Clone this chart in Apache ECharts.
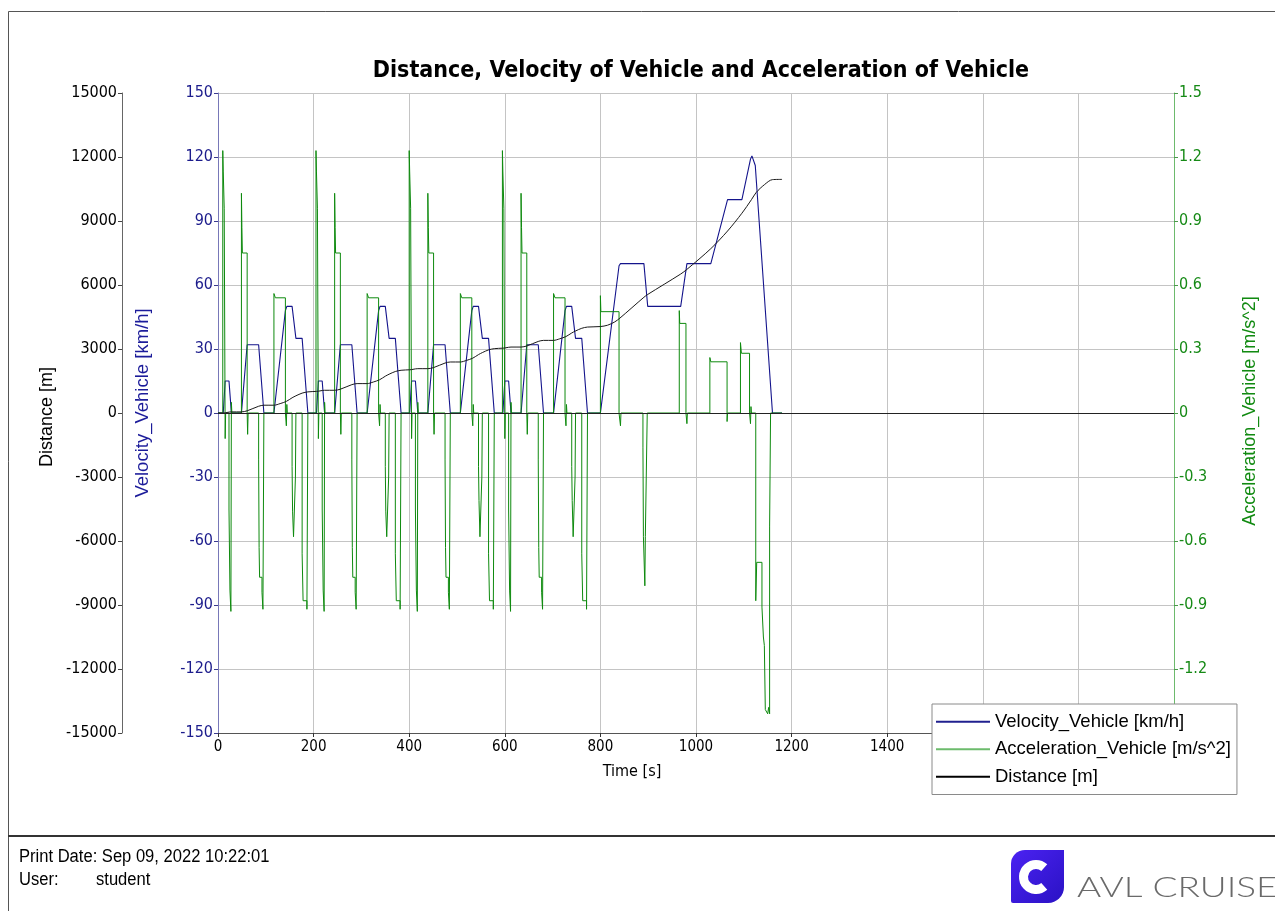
<!DOCTYPE html>
<html>
<head>
<meta charset="utf-8">
<script src="https://cdn.jsdelivr.net/npm/echarts@6/dist/echarts.min.js"></script>
<style>
html,body{margin:0;padding:0;background:#fff;}
#chart{width:1275px;height:911px;}
</style>
</head>
<body>
<div id="chart"></div>
<script>
// ---------- DATA ----------
var titleText = 'Distance, Velocity of Vehicle and Acceleration of Vehicle';
var seriesNames = ['Velocity_Vehicle [km/h]', 'Acceleration_Vehicle [m/s^2]', 'Distance [m]'];

// Velocity [km/h] : [time s, value]
var velocityPoints = [
  [0,0],[11,0],[15,15],[23,15],[28,0],[49,0],[61,32],[85,32],[96,0],[117,0],[141,48],[144,50],[155,50],[163,35],[176,35],[188,0],
  [206,0],[210,15],[218,15],[223,0],[244,0],[256,32],[280,32],[291,0],[312,0],[336,48],[339,50],[350,50],[358,35],[371,35],[383,0],
  [401,0],[405,15],[413,15],[418,0],[439,0],[451,32],[475,32],[486,0],[507,0],[531,48],[534,50],[545,50],[553,35],[566,35],[578,0],
  [596,0],[600,15],[608,15],[613,0],[634,0],[646,32],[670,32],[681,0],[702,0],[726,48],[729,50],[740,50],[748,35],[761,35],[773,0],
  [800,0],[839,69],[842,70],[891,70],[899,50],[968,50],[981,70],[1031,70],[1066,100],[1096,100],[1114,119],[1117,120.5],[1121,120],[1124,116],[1160,0],[1180,0]
];

// Acceleration [m/s^2] : [time s, value]
var accelCycle1 = [
  [0,0],[10,0],[10,1.23],[11,1.23],[11,1.13],[13,1.13],[13,0.96],[15,0.96],[15,-0.12],[16,-0.12],[16,0],[23,0],[23,-0.45],[25,-0.45],[25,-0.83],[27,-0.83],[27,-0.93],[28,-0.93],[28,0.05],[29,0],
  [49,0],[49,1.03],[50,1.03],[50,0.87],[51,0.87],[51,0.75],[61,0.75],[61,0],[62,-0.1],[63,0],
  [85,0],[85,-0.22],[86,-0.22],[86,-0.63],[87,-0.63],[87,-0.77],[92,-0.77],[92,-0.84],[94,-0.84],[94,-0.92],[96,-0.92],[96,0],
  [117,0],[117,0.56],[120,0.56],[120,0.54],[141,0.54],[141,0],[143,-0.06],[144,0.04],[145,0],
  [155,0],[155,-0.25],[156,-0.25],[156,-0.46],[158,-0.46],[158,-0.58],[162,-0.58],[162,-0.3],[163,-0.3],[163,0],
  [176,0],[176,-0.66],[178,-0.66],[178,-0.88],[186,-0.88],[186,-0.92],[188,-0.92],[188,0]
];
var accelCycle2 = [
  [195,0],[205,0],[205,1.23],[206,1.23],[206,1.13],[208,1.13],[208,0.96],[210,0.96],[210,-0.12],[211,-0.12],[211,0],[218,0],[218,-0.45],[220,-0.45],[220,-0.83],[222,-0.83],[222,-0.93],[223,-0.93],[223,0.05],[224,0],
  [244,0],[244,1.03],[245,1.03],[245,0.87],[246,0.87],[246,0.75],[256,0.75],[256,0],[257,-0.1],[258,0],
  [280,0],[280,-0.22],[281,-0.22],[281,-0.63],[282,-0.63],[282,-0.77],[287,-0.77],[287,-0.84],[289,-0.84],[289,-0.92],[291,-0.92],[291,0],
  [312,0],[312,0.56],[315,0.56],[315,0.54],[336,0.54],[336,0],[338,-0.06],[339,0.04],[340,0],
  [350,0],[350,-0.25],[351,-0.25],[351,-0.46],[353,-0.46],[353,-0.58],[357,-0.58],[357,-0.3],[358,-0.3],[358,0],
  [371,0],[371,-0.66],[373,-0.66],[373,-0.88],[381,-0.88],[381,-0.92],[383,-0.92],[383,0]
];
var accelCycle3 = [
  [390,0],[400,0],[400,1.23],[401,1.23],[401,1.13],[403,1.13],[403,0.96],[405,0.96],[405,-0.12],[406,-0.12],[406,0],[413,0],[413,-0.45],[415,-0.45],[415,-0.83],[417,-0.83],[417,-0.93],[418,-0.93],[418,0.05],[419,0],
  [439,0],[439,1.03],[440,1.03],[440,0.87],[441,0.87],[441,0.75],[451,0.75],[451,0],[452,-0.1],[453,0],
  [475,0],[475,-0.22],[476,-0.22],[476,-0.63],[477,-0.63],[477,-0.77],[482,-0.77],[482,-0.84],[484,-0.84],[484,-0.92],[486,-0.92],[486,0],
  [507,0],[507,0.56],[510,0.56],[510,0.54],[531,0.54],[531,0],[533,-0.06],[534,0.04],[535,0],
  [545,0],[545,-0.25],[546,-0.25],[546,-0.41],[548,-0.41],[548,-0.58],[552,-0.58],[552,-0.3],[553,-0.3],[553,0],
  [566,0],[566,-0.66],[568,-0.66],[568,-0.88],[576,-0.88],[576,-0.92],[578,-0.92],[578,0]
];
var accelCycle4 = [
  [585,0],[595,0],[595,1.23],[596,1.23],[596,1.13],[598,1.13],[598,0.96],[600,0.96],[600,-0.12],[601,-0.12],[601,0],[608,0],[608,-0.45],[610,-0.45],[610,-0.83],[612,-0.83],[612,-0.93],[613,-0.93],[613,0.05],[614,0],
  [634,0],[634,1.03],[635,1.03],[635,0.87],[636,0.87],[636,0.75],[646,0.75],[646,0],[647,-0.1],[648,0],
  [670,0],[670,-0.22],[671,-0.22],[671,-0.63],[672,-0.63],[672,-0.77],[677,-0.77],[677,-0.84],[679,-0.84],[679,-0.92],[681,-0.92],[681,0],
  [702,0],[702,0.56],[705,0.56],[705,0.54],[726,0.54],[726,0],[728,-0.06],[729,0.04],[730,0],
  [740,0],[740,-0.25],[741,-0.25],[741,-0.41],[743,-0.41],[743,-0.58],[747,-0.58],[747,-0.3],[748,-0.3],[748,0],
  [761,0],[761,-0.66],[763,-0.66],[763,-0.88],[771,-0.88],[771,-0.92],[773,-0.92],[773,0]
];
var accelExtraUrban = [
  [780,0],[800,0],[800,0.55],[801,0.55],[801,0.475],[839,0.475],[839,0],[842,-0.06],[843,0],
  [889,0],[889,-0.16],[890,-0.16],[890,-0.58],[893,-0.58],[893,-0.81],[894,-0.81],[894,-0.58],[898,-0.58],[898,0],
  [965,0],[965,0.48],[966,0.48],[966,0.42],[979,0.42],[979,0],[981,-0.05],[982,0],
  [1029,0],[1029,0.26],[1031,0.26],[1031,0.24],[1065,0.24],[1065,-0.04],[1066,0],
  [1093,0],[1093,0.33],[1095,0.33],[1095,0.28],[1112,0.28],[1112,0],[1114,-0.05],[1115,0.03],[1116,0],
  [1125,0],[1125,-0.88],[1127,-0.88],[1127,-0.70],[1138,-0.70],[1138,-0.91],[1141,-0.91],[1141,-1.05],[1143,-1.05],[1143,-1.09],[1145,-1.09],[1145,-1.39],[1150,-1.41],[1152,-1.38],[1154,-1.41],[1154,-0.53],[1156,-0.53],[1156,0],[1180,0]
];

// Distance [m] : [time s, value]
var distancePoints = [
  [0,0],[11,0],[15,8],[23,42],[28,52],[49,52],[61,103],[85,316],[96,365],[117,365],[130,440],[143,545],[155,712],[163,806],[176,932],[188,990],[206,1013],
  [210,1021],[218,1055],[223,1065],[244,1065],[256,1116],[280,1329],[291,1378],[312,1378],[325,1453],[338,1558],[350,1725],[358,1819],[371,1945],[383,2003],[401,2026],
  [405,2034],[413,2068],[418,2078],[439,2078],[451,2129],[475,2342],[486,2391],[507,2391],[520,2466],[533,2571],[545,2738],[553,2832],[566,2958],[578,3016],[596,3039],
  [600,3047],[608,3081],[613,3091],[634,3091],[646,3142],[670,3355],[681,3404],[702,3404],[715,3479],[728,3584],[740,3751],[748,3845],[761,3971],[773,4029],[800,4052],
  [815,4115],[830,4270],[841,4452],[891,5424],[899,5557],[968,6515],[981,6732],[1031,7704],[1066,8530],[1096,9363],[1116,10000],[1126,10340],[1143,10700],[1160,10940],[1180,10950]
];

var xTicks = {min:0, max:2000, interval:200};
var distTicks = {min:-15000, max:15000, interval:3000};
var velTicks = {min:-150, max:150, interval:30};
var accTicks = {min:-1.5, max:1.5, interval:0.3};

var footerDate = 'Print Date: Sep 09, 2022 10:22:01';
var footerUserLabel = 'User:';
var footerUser = 'student';

// ---------- CHART ----------
var accelPoints = accelCycle1.concat(accelCycle2, accelCycle3, accelCycle4, accelExtraUrban);
var tickFont = '"DejaVu Sans Condensed", "DejaVu Sans", sans-serif';
var textFont = '"Liberation Sans", Arial, sans-serif';
var plainNum = function (v) { return String(parseFloat(Number(v).toFixed(1))); };

var chart = echarts.init(document.getElementById('chart'), null, {renderer:'canvas'});
var option = {
  animation: false,
  backgroundColor: '#fff',
  title: {
    text: titleText, left: 696, top: 55, textAlign: 'center',
    textStyle: {fontFamily: tickFont, fontSize: 23, fontWeight: 'bold', color: '#000'}
  },
  grid: {left: 218, right: 101, top: 93, bottom: 178},
  legend: {
    orient: 'vertical', left: 932, top: 704, z: 20,
    backgroundColor: '#fff', borderColor: '#8a8a8a', borderWidth: 1,
    padding: [8, 6, 8, 4], itemGap: 8, itemWidth: 54, itemHeight: 2, icon: 'rect',
    textStyle: {fontFamily: textFont, fontSize: 18.5, lineHeight: 19.5, color: '#000'},
    data: [
      {name: seriesNames[0], itemStyle: {color: '#20208f'}},
      {name: seriesNames[1], itemStyle: {color: '#6cbb6c'}},
      {name: seriesNames[2], itemStyle: {color: '#000'}}
    ]
  },
  xAxis: {
    type: 'value', min: xTicks.min, max: xTicks.max, interval: xTicks.interval,
    axisLine: {show: true, onZero: false, lineStyle: {color: '#555', width: 1}},
    axisTick: {show: true, length: 4, lineStyle: {color: '#333'}},
    axisLabel: {color: '#000', fontFamily: tickFont, fontSize: 15, margin: 7, formatter: plainNum},
    splitLine: {show: true, lineStyle: {color: '#c4c4c4', width: 1}}
  },
  yAxis: [
    {
      type: 'value', min: distTicks.min, max: distTicks.max, interval: distTicks.interval,
      position: 'left', offset: 96,
      axisLine: {show: true, onZero: false, lineStyle: {color: '#666'}},
      axisTick: {show: true, length: 4, lineStyle: {color: '#444'}},
      axisLabel: {color: '#000', fontFamily: tickFont, fontSize: 16, margin: 5, formatter: plainNum},
      splitLine: {show: false}
    },
    {
      type: 'value', min: velTicks.min, max: velTicks.max, interval: velTicks.interval,
      position: 'left', offset: 0,
      axisLine: {show: true, onZero: false, lineStyle: {color: '#7878b8'}},
      axisTick: {show: true, length: 4, lineStyle: {color: '#3a3a90'}},
      axisLabel: {color: '#1c1c8c', fontFamily: tickFont, fontSize: 16, margin: 5, formatter: plainNum},
      splitLine: {show: true, lineStyle: {color: '#c4c4c4', width: 1}}
    },
    {
      type: 'value', min: accTicks.min, max: accTicks.max, interval: accTicks.interval,
      position: 'right', offset: 0,
      axisLine: {show: true, onZero: false, lineStyle: {color: '#6dba6d'}},
      axisTick: {show: true, length: 4, lineStyle: {color: '#4a9a4a'}},
      axisLabel: {color: '#168a16', fontFamily: tickFont, fontSize: 16, margin: 5, formatter: plainNum},
      splitLine: {show: false}
    }
  ],
  series: [
    {
      name: seriesNames[0], type: 'line', yAxisIndex: 1, data: velocityPoints,
      symbol: 'none', smooth: false, lineStyle: {color: '#14148c', width: 1.1}, itemStyle: {color: '#14148c'}, z: 2
    },
    {
      name: seriesNames[1], type: 'line', yAxisIndex: 2, data: accelPoints,
      symbol: 'none', smooth: false, lineStyle: {color: '#0e8a0e', width: 1}, itemStyle: {color: '#0e8a0e'}, z: 3
    },
    {
      name: seriesNames[2], type: 'line', yAxisIndex: 0, data: distancePoints,
      symbol: 'none', smooth: 0.3, lineStyle: {color: '#1a1a1a', width: 1}, itemStyle: {color: '#000'}, z: 4,
      markLine: {silent: true, symbol: 'none', label: {show: false}, animation: false,
        lineStyle: {color: '#222', width: 1, type: 'solid'}, data: [{yAxis: 0}]}
    }
  ],
  graphic: [
    // page frame
    {type: 'line', shape: {x1: 8.5, y1: 11.5, x2: 1275, y2: 11.5}, style: {stroke: '#555', lineWidth: 1}, silent: true},
    {type: 'line', shape: {x1: 8.5, y1: 11.5, x2: 8.5, y2: 911}, style: {stroke: '#555', lineWidth: 1}, silent: true},
    {type: 'line', shape: {x1: 8, y1: 836, x2: 1275, y2: 836}, style: {stroke: '#333', lineWidth: 2}, silent: true},
    // axis names
    {type: 'text', x: 47, y: 417, rotation: Math.PI / 2,
      style: {text: seriesNames[2], fill: '#000', font: '18px ' + textFont, align: 'center', verticalAlign: 'middle'}},
    {type: 'text', x: 143, y: 403, rotation: Math.PI / 2,
      style: {text: seriesNames[0], fill: '#1c1c9a', font: '18.5px ' + textFont, align: 'center', verticalAlign: 'middle'}},
    {type: 'text', x: 1250, y: 411, rotation: Math.PI / 2,
      style: {text: seriesNames[1], fill: '#118a11', font: '18px ' + textFont, align: 'center', verticalAlign: 'middle'}},
    {type: 'text', x: 632, y: 772,
      style: {text: 'Time [s]', fill: '#000', font: '16px ' + tickFont, align: 'center', verticalAlign: 'middle'}},
    // footer
    {type: 'text', x: 19, y: 857, scaleX: 0.92,
      style: {text: footerDate, fill: '#000', font: '18px ' + textFont, verticalAlign: 'middle'}},
    {type: 'text', x: 19, y: 880, scaleX: 0.92,
      style: {text: footerUserLabel, fill: '#000', font: '18px ' + textFont, verticalAlign: 'middle'}},
    {type: 'text', x: 96, y: 880, scaleX: 0.92,
      style: {text: footerUser, fill: '#000', font: '18px ' + textFont, verticalAlign: 'middle'}},
    // logo
    {type: 'rect', shape: {x: 1011, y: 850, width: 53, height: 53, r: [14, 0, 16, 2]},
      style: {fill: new echarts.graphic.LinearGradient(0, 0, 1, 1, [{offset: 0, color: '#4b22f2'}, {offset: 1, color: '#2a12c4'}])}},
    {type: 'arc', shape: {cx: 1036, cy: 877, r: 12.5, startAngle: Math.PI * 0.27, endAngle: Math.PI * 1.73, clockwise: true},
      style: {stroke: '#fff', lineWidth: 9, fill: null}},
    {type: 'text', x: 1077, y: 888, scaleX: 1.37,
      style: {text: 'AVL CRUISE', fill: '#6a6a6a', font: '300 27px Lato, "Open Sans", sans-serif', verticalAlign: 'middle'}}
  ]
};
chart.setOption(option);
</script>
</body>
</html>
